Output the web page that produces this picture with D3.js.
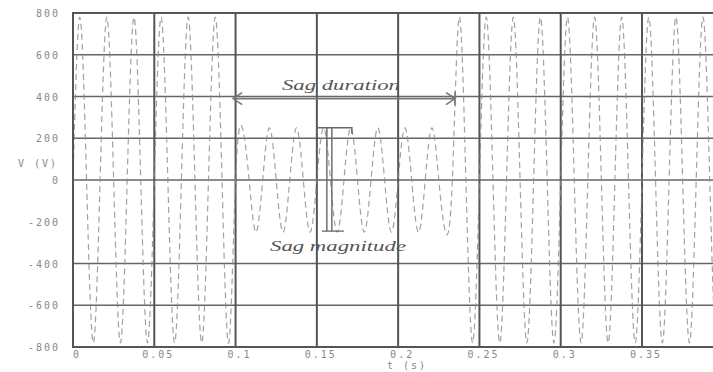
<!DOCTYPE html>
<html>
<head>
<meta charset="utf-8">
<script src="https://cdn.jsdelivr.net/npm/d3@7"></script>
<style>
  body { margin: 0; background: #fff; }
  svg { display: block; }
  .tick-label { font-family: 'DejaVu Sans Mono', monospace; font-size: 10px; fill: #888; letter-spacing: 2px; }
  .note { font-family: 'Liberation Serif', serif; font-style: italic; font-size: 15px; fill: #555; }
</style>
</head>
<body>
<div id="chart"></div>
<script>
// signed peak value of each half cycle (60 Hz)
const halfCyclePeaks = [
  780, -780, 780, -780, 780, -780, 780, -780, 780, -780, 780, -780,
  250, -250, 250, -250, 250, -250, 250, -250, 250, -250, 250, -250, 250, -250, 250, -250,
  780, -780, 780, -780, 780, -780, 780, -780, 780, -780, 780, -780,
  780, -780, 780, -780, 780, -780, 780, -780
]
const halfPeriod = 1 / 120

const xTicks = [0, 0.05, 0.1, 0.15, 0.2, 0.25, 0.3, 0.35]
const xTickLabels = ['0', '0.05', '0.1', '0.15', '0.2', '0.25', '0.3', '0.35']
const yTicks = [800, 600, 400, 200, 0, -200, -400, -600, -800]
const yGrid = [600, 400, 200, 0, -400, -600]

const sagDuration = [0.0985, 0.235] // seconds
const sagDurationLevel = 390
const sagMagnitude = [250, -245]
const sagMagnitudeTime = 0.158

const width = 713
const height = 372

const svg = d3.select('#chart')
  .append('svg')
  .attr('width', width)
  .attr('height', height)

const x = d3.scaleLinear().domain([0, 0.4]).range([73, 723.3])
const y = d3.scaleLinear().domain([-800, 800]).range([347, 13])

// grid
svg.selectAll('.hgrid')
  .data(yGrid)
  .enter()
  .append('line')
  .attr('x1', x(0)).attr('x2', width)
  .attr('y1', d => y(d)).attr('y2', d => y(d))
  .attr('stroke', '#666')
  .attr('stroke-width', 1.6)

svg.selectAll('.vgrid')
  .data(xTicks.slice(1))
  .enter()
  .append('line')
  .attr('x1', d => x(d)).attr('x2', d => x(d))
  .attr('y1', y(800)).attr('y2', y(-800))
  .attr('stroke', '#555')
  .attr('stroke-width', 2)

// waveform: zero crossings + peaks, smoothed by d3
const pts = []
halfCyclePeaks.forEach((v, i) => {
  pts.push([i * halfPeriod, 0])
  pts.push([(i + 0.5) * halfPeriod, v])
})
pts.push([halfCyclePeaks.length * halfPeriod, 0])

const line = d3.line()
  .x(d => x(d[0]))
  .y(d => y(d[1]))
  .curve(d3.curveNatural)

svg.append('path')
  .datum(pts)
  .attr('d', line)
  .attr('fill', 'none')
  .attr('stroke', '#8a8a8a')
  .attr('stroke-width', 1.2)
  .attr('stroke-dasharray', '6,4')
  .attr('opacity', 0.8)

// frame
svg.append('path')
  .attr('d', `M${width},${y(800)}H${x(0)}V${y(-800)}H${width}`)
  .attr('fill', 'none')
  .attr('stroke', '#555')
  .attr('stroke-width', 2)

// tick labels
svg.selectAll('.ylab')
  .data(yTicks)
  .enter()
  .append('text')
  .attr('class', 'tick-label')
  .attr('x', 60)
  .attr('y', d => y(d) + 4)
  .attr('text-anchor', 'end')
  .text(d => d)

svg.selectAll('.xlab')
  .data(xTicks)
  .enter()
  .append('text')
  .attr('class', 'tick-label')
  .attr('x', d => x(d) + 4)
  .attr('y', 358)
  .attr('text-anchor', 'middle')
  .text((d, i) => xTickLabels[i])

svg.append('text')
  .attr('class', 'tick-label')
  .attr('x', 58)
  .attr('y', 167)
  .attr('text-anchor', 'end')
  .text('V (V)')

svg.append('text')
  .attr('class', 'tick-label')
  .attr('x', 407)
  .attr('y', 369)
  .attr('text-anchor', 'middle')
  .text('t (s)')

// sag duration arrow
const ay = y(sagDurationLevel)
const ax1 = x(sagDuration[0])
const ax2 = x(sagDuration[1])
svg.append('path')
  .attr('d', `M${ax1},${ay}H${ax2}M${ax1 + 9},${ay - 6}L${ax1},${ay}L${ax1 + 9},${ay + 6}` +
    `M${ax2 - 9},${ay - 6}L${ax2},${ay}L${ax2 - 9},${ay + 6}M${ax2},${ay - 7}V${ay + 7}`)
  .attr('fill', 'none')
  .attr('stroke', '#777')
  .attr('stroke-width', 1.6)

svg.append('text')
  .attr('class', 'note')
  .attr('x', 282)
  .attr('y', y(430))
  .attr('textLength', 118)
  .attr('lengthAdjust', 'spacingAndGlyphs')
  .text('Sag duration')

// sag magnitude marker
const mx = x(sagMagnitudeTime)
const my1 = y(sagMagnitude[0])
const my2 = y(sagMagnitude[1])
svg.append('path')
  .attr('d', `M${mx - 13},${my1 + 5}V${my1}H${mx + 22}V${my1 + 6}` +
    `M${mx - 3},${my1}V${my2}M${mx + 2},${my1}V${my2}M${mx - 8},${my2}H${mx + 14}`)
  .attr('fill', 'none')
  .attr('stroke', '#666')
  .attr('stroke-width', 1.4)

svg.append('text')
  .attr('class', 'note')
  .attr('x', 270)
  .attr('y', y(-340))
  .attr('textLength', 136)
  .attr('lengthAdjust', 'spacingAndGlyphs')
  .text('Sag magnitude')
</script>
</body>
</html>
